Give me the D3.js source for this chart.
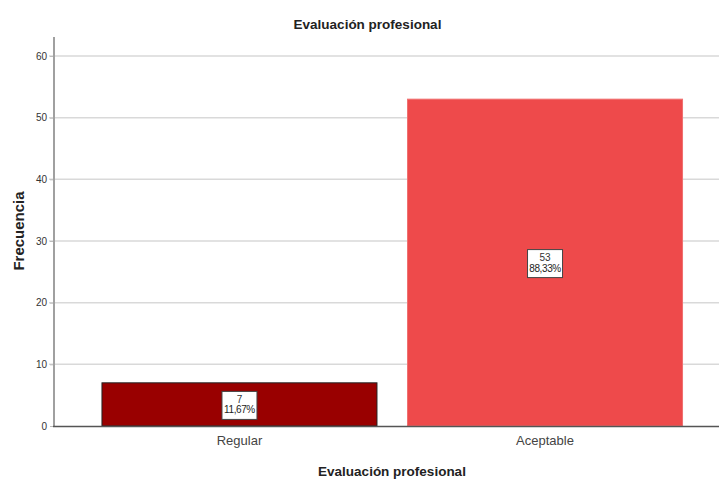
<!DOCTYPE html>
<html><head><meta charset="utf-8">
<script src="https://cdn.jsdelivr.net/npm/d3@7/dist/d3.min.js"></script>
<style>body{margin:0;background:#fff;}svg{display:block;}</style>
</head><body>
<svg id="c" width="719" height="482"></svg>
<script>
const categories = ["Regular", "Aceptable"];
const counts = [7, 53];
const percents = ["11,67%", "88,33%"];
const yTicks = [0, 10, 20, 30, 40, 50, 60];
const colors = ["#990000", "#EE4A4B"];
const strokes = ["#222222", "#F07070"];

const svg = d3.select("#c");
const font = "'Liberation Sans', Arial, sans-serif";
const x = d3.scaleBand().domain(categories).range([54, 730.5]).paddingInner(0.1).paddingOuter(0.157);
const y = d3.scaleLinear().domain([0, 60]).range([426, 56]);

// gridlines
svg.append("g").selectAll("line").data(yTicks.filter(d => d > 0)).join("line")
  .attr("x1", 49).attr("x2", 719).attr("y1", d => y(d)).attr("y2", d => y(d))
  .attr("stroke", "#d9d9d9").attr("stroke-width", 1.5);

// y axis
const ya = svg.append("g").attr("transform", "translate(54,0)")
  .call(d3.axisLeft(y).tickValues(yTicks).tickSize(4).tickPadding(3));
ya.select(".domain").remove();
ya.selectAll(".tick line").attr("stroke", "#bbbbbb");
ya.selectAll("text").attr("font-family", font).attr("font-size", 10).attr("fill", "#333");
svg.append("line").attr("x1", 54).attr("x2", 54).attr("y1", 37).attr("y2", 427)
  .attr("stroke", "#a0a0a0").attr("stroke-width", 2);

// bars
svg.append("g").selectAll("rect").data(categories).join("rect")
  .attr("x", d => x(d)).attr("width", x.bandwidth())
  .attr("y", (d, i) => y(counts[i])).attr("height", (d, i) => y(0) - y(counts[i]))
  .attr("fill", (d, i) => colors[i]).attr("stroke", (d, i) => strokes[i]).attr("stroke-width", 1);

// x axis
const xa = svg.append("g").attr("transform", "translate(0,426)")
  .call(d3.axisBottom(x).tickSize(0).tickPadding(10));
xa.select(".domain").remove();
xa.selectAll("text").attr("font-family", font).attr("font-size", 13).attr("fill", "#444");
svg.append("line").attr("x1", 53).attr("x2", 719).attr("y1", 426.5).attr("y2", 426.5)
  .attr("stroke", "#555").attr("stroke-width", 1.5);

// labels
const lab = svg.append("g").selectAll("g").data(categories).join("g")
  .attr("transform", (d, i) => `translate(${x(d) + x.bandwidth() / 2},${(y(counts[i]) + y(0)) / 2 + 1})`);
lab.append("rect").attr("x", -17.5).attr("y", -14).attr("width", 35).attr("height", 28)
  .attr("fill", "#fff").attr("stroke", "#444").attr("stroke-width", 1);
lab.append("text").attr("y", -2.5).attr("text-anchor", "middle").attr("font-family", font)
  .attr("font-size", 10).attr("fill", "#333").text((d, i) => counts[i]);
lab.append("text").attr("y", 8).attr("text-anchor", "middle").attr("font-family", font)
  .attr("font-size", 10).attr("fill", "#222").attr("letter-spacing", -0.4).text((d, i) => percents[i]);

// titles
svg.append("text").attr("x", 367.5).attr("y", 29).attr("text-anchor", "middle")
  .attr("font-family", font).attr("font-weight", "bold").attr("font-size", 13.5).attr("fill", "#222")
  .text("Evaluación profesional");
svg.append("text").attr("x", 392).attr("y", 476).attr("text-anchor", "middle")
  .attr("font-family", font).attr("font-weight", "bold").attr("font-size", 13.5).attr("fill", "#222")
  .text("Evaluación profesional");
svg.append("text").attr("transform", "translate(23.5,231) rotate(-90)").attr("text-anchor", "middle")
  .attr("font-family", font).attr("font-weight", "bold").attr("font-size", 15).attr("fill", "#222")
  .text("Frecuencia");
</script>
</body></html>
